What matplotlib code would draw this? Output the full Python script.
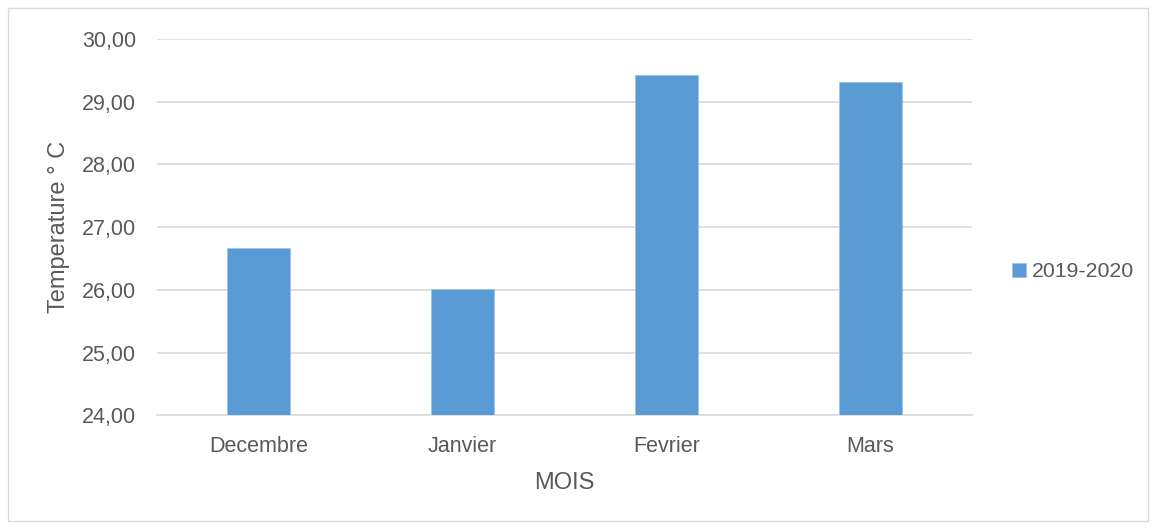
import matplotlib
matplotlib.use("Agg")
import matplotlib.pyplot as plt
from matplotlib.patches import Rectangle

months = ["Decembre", "Janvier", "Fevrier", "Mars"]
temps_2019_2020 = [26.66, 26.02, 29.42, 29.31]
series_label = "2019-2020"
y_ticks = [24, 25, 26, 27, 28, 29, 30]
y_tick_labels = ["24,00", "25,00", "26,00", "27,00", "28,00", "29,00", "30,00"]

plt.rcParams["font.family"] = ["Liberation Sans", "DejaVu Sans"]
text_color = "#595959"
bar_color = "#5B9BD5"
grid_color = "#D9D9D9"

fig = plt.figure(figsize=(11.56, 5.29), dpi=100)
ax = fig.add_axes([0.1358, 0.215, 0.705, 0.7117])

x = range(len(months))
ax.bar(x, [t - 24 for t in temps_2019_2020], bottom=24, width=0.31,
       color=bar_color, edgecolor="#9DC3E6", linewidth=0.6, label=series_label, zorder=3)

ax.set_xlim(-0.5, len(months) - 0.5)
ax.set_ylim(24, 30)
ax.set_yticks(y_ticks)
ax.set_yticklabels(y_tick_labels)
ax.set_xticks(list(x))
ax.set_xticklabels(months)
ax.tick_params(axis="both", length=0, colors=text_color, labelsize=15.5)
ax.tick_params(axis="y", pad=15)
ax.tick_params(axis="x", pad=15)
ax.yaxis.grid(True, color=grid_color, linewidth=1.2, zorder=0)
for side in ("top", "right", "left"):
    ax.spines[side].set_visible(False)
ax.spines["bottom"].set_color(grid_color)
ax.spines["bottom"].set_linewidth(1.2)

ax.set_ylabel("Temperature ° C", fontsize=17, color=text_color, labelpad=9)
ax.set_xlabel("MOIS", fontsize=17, color=text_color, labelpad=11)

leg = fig.legend(loc="center left", bbox_to_anchor=(0.859, 0.486), frameon=False,
                 fontsize=15.3, handlelength=0.65, handleheight=0.65, handletextpad=0.3)
for t in leg.get_texts():
    t.set_color(text_color)

fig.patches.append(Rectangle((0.007, 0.015), 0.986, 0.97, transform=fig.transFigure,
                             fill=False, edgecolor="#D9D9D9", linewidth=1))

fig.savefig("out.png", dpi=100)
